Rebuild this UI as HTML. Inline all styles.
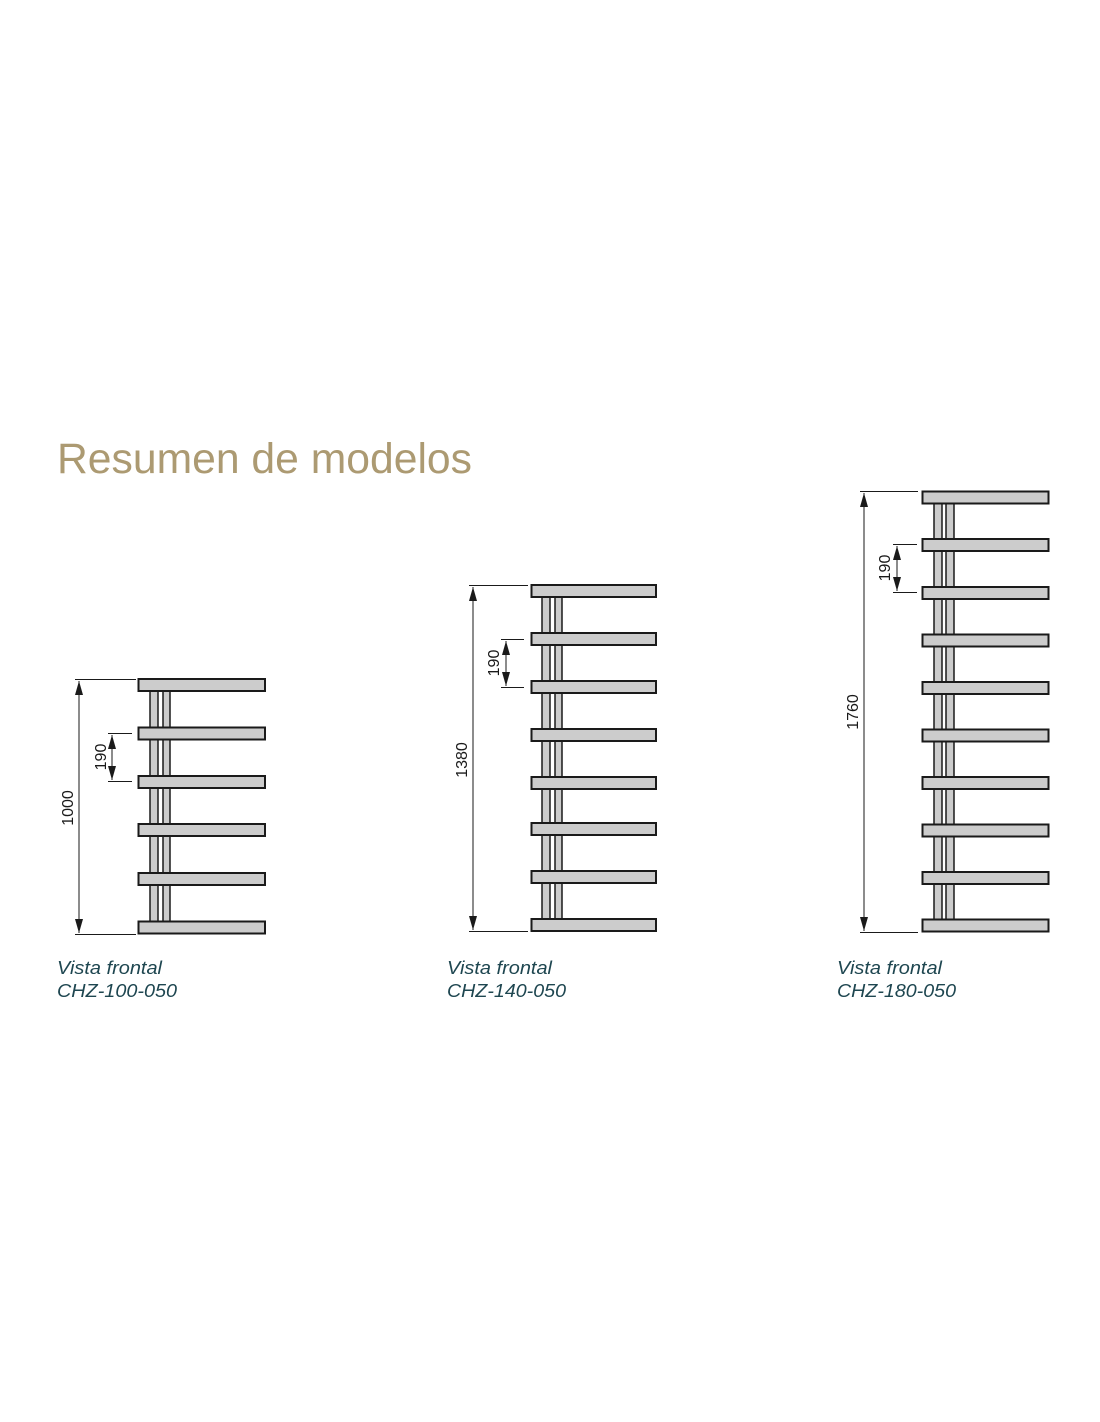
<!DOCTYPE html>
<html><head><meta charset="utf-8"><style>
html,body{margin:0;padding:0;background:#fff;}
svg{display:block;}
.bar{fill:#cccccc;stroke:#1a1a1a;stroke-width:2;}
.tube{fill:#cccccc;stroke:#1a1a1a;stroke-width:1.5;}
.ln{stroke:#1a1a1a;stroke-width:1;fill:none;}
.dim{font-family:"Liberation Sans",sans-serif;font-size:16px;fill:#1a1a1a;}
.cap{font-family:"Liberation Sans",sans-serif;font-size:18px;font-style:italic;fill:#1e4650;}
</style></head><body>
<svg width="1100" height="1422" viewBox="0 0 1100 1422" xmlns="http://www.w3.org/2000/svg">
<defs>
<marker id="a" viewBox="0 0 14 8" refX="14" refY="4" markerWidth="14" markerHeight="8" orient="auto-start-reverse" markerUnits="userSpaceOnUse"><path d="M0,0 L14,4 L0,8 z" fill="#1a1a1a"/></marker>
</defs>
<text x="57" y="473" font-family="Liberation Sans, sans-serif" font-size="43" fill="#ac9a72" textLength="415" lengthAdjust="spacingAndGlyphs">Resumen de modelos</text>

<!-- Model 1 -->
<rect class="tube" x="150" y="685" width="8" height="243"/>
<rect class="tube" x="163" y="685" width="7" height="243"/>
<g class="bar">
<rect x="138.5" y="679" width="126.5" height="12"/>
<rect x="138.5" y="727.5" width="126.5" height="12"/>
<rect x="138.5" y="776" width="126.5" height="12"/>
<rect x="138.5" y="824" width="126.5" height="12"/>
<rect x="138.5" y="873" width="126.5" height="12"/>
<rect x="138.5" y="921.5" width="126.5" height="12"/>
</g>
<line class="ln" x1="75" y1="679.5" x2="136" y2="679.5"/>
<line class="ln" x1="75" y1="934.5" x2="136" y2="934.5"/>
<line class="ln" x1="79" y1="681" x2="79" y2="933" marker-start="url(#a)" marker-end="url(#a)"/>
<line class="ln" x1="108" y1="733.5" x2="132" y2="733.5"/>
<line class="ln" x1="108" y1="781.5" x2="132" y2="781.5"/>
<line class="ln" x1="112" y1="735" x2="112" y2="780" marker-start="url(#a)" marker-end="url(#a)"/>
<text class="dim" transform="translate(106,757) rotate(-90)" text-anchor="middle">190</text>
<text class="dim" transform="translate(73,808) rotate(-90)" text-anchor="middle">1000</text>
<text class="cap" x="57" y="974" textLength="105" lengthAdjust="spacingAndGlyphs">Vista frontal</text>
<text class="cap" x="57" y="997" textLength="120" lengthAdjust="spacingAndGlyphs">CHZ-100-050</text>

<!-- Model 2 -->
<rect class="tube" x="542" y="591" width="8" height="334"/>
<rect class="tube" x="555" y="591" width="7" height="334"/>
<g class="bar">
<rect x="531.5" y="585" width="124.5" height="12"/>
<rect x="531.5" y="633" width="124.5" height="12"/>
<rect x="531.5" y="681" width="124.5" height="12"/>
<rect x="531.5" y="729" width="124.5" height="12"/>
<rect x="531.5" y="777" width="124.5" height="12"/>
<rect x="531.5" y="823" width="124.5" height="12"/>
<rect x="531.5" y="871" width="124.5" height="12"/>
<rect x="531.5" y="919" width="124.5" height="12"/>
</g>
<line class="ln" x1="469" y1="585.5" x2="528" y2="585.5"/>
<line class="ln" x1="469" y1="931.5" x2="528" y2="931.5"/>
<line class="ln" x1="473" y1="587" x2="473" y2="930" marker-start="url(#a)" marker-end="url(#a)"/>
<line class="ln" x1="501" y1="639.5" x2="524" y2="639.5"/>
<line class="ln" x1="501" y1="687.5" x2="524" y2="687.5"/>
<line class="ln" x1="506" y1="641" x2="506" y2="686" marker-start="url(#a)" marker-end="url(#a)"/>
<text class="dim" transform="translate(499,663) rotate(-90)" text-anchor="middle">190</text>
<text class="dim" transform="translate(467,760) rotate(-90)" text-anchor="middle">1380</text>
<text class="cap" x="447" y="974" textLength="105" lengthAdjust="spacingAndGlyphs">Vista frontal</text>
<text class="cap" x="447" y="997" textLength="119" lengthAdjust="spacingAndGlyphs">CHZ-140-050</text>

<!-- Model 3 -->
<rect class="tube" x="934" y="497" width="8" height="428"/>
<rect class="tube" x="946" y="497" width="8" height="428"/>
<g class="bar">
<rect x="922.5" y="491.5" width="126" height="12"/>
<rect x="922.5" y="539" width="126" height="12"/>
<rect x="922.5" y="587" width="126" height="12"/>
<rect x="922.5" y="634.5" width="126" height="12"/>
<rect x="922.5" y="682" width="126" height="12"/>
<rect x="922.5" y="729.5" width="126" height="12"/>
<rect x="922.5" y="777" width="126" height="12"/>
<rect x="922.5" y="824.5" width="126" height="12"/>
<rect x="922.5" y="872" width="126" height="12"/>
<rect x="922.5" y="919.5" width="126" height="12"/>
</g>
<line class="ln" x1="860" y1="491.5" x2="918" y2="491.5"/>
<line class="ln" x1="860" y1="932.5" x2="918" y2="932.5"/>
<line class="ln" x1="864" y1="493" x2="864" y2="931" marker-start="url(#a)" marker-end="url(#a)"/>
<line class="ln" x1="893" y1="544.5" x2="917" y2="544.5"/>
<line class="ln" x1="893" y1="592.5" x2="917" y2="592.5"/>
<line class="ln" x1="897" y1="546" x2="897" y2="591" marker-start="url(#a)" marker-end="url(#a)"/>
<text class="dim" transform="translate(890,568) rotate(-90)" text-anchor="middle">190</text>
<text class="dim" transform="translate(858,712) rotate(-90)" text-anchor="middle">1760</text>
<text class="cap" x="837" y="974" textLength="105" lengthAdjust="spacingAndGlyphs">Vista frontal</text>
<text class="cap" x="837" y="997" textLength="119" lengthAdjust="spacingAndGlyphs">CHZ-180-050</text>
</svg>
</body></html>
